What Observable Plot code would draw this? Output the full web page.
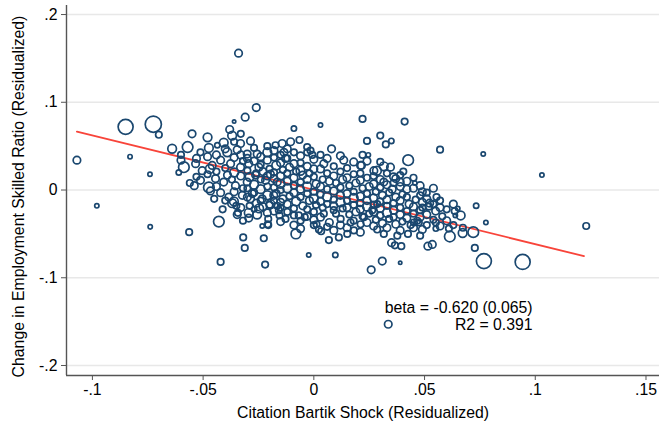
<!DOCTYPE html>
<html><head><meta charset="utf-8">
<script src="https://cdn.jsdelivr.net/npm/d3@7"></script>
<script src="https://cdn.jsdelivr.net/npm/@observablehq/plot@0.6"></script>
<style>body{margin:0;background:#fff}</style>
</head><body><div id="chart"></div>
<script>
const xTicks = [-0.1, -0.05, 0, 0.05, 0.1, 0.15];
const yTicks = [-0.2, -0.1, 0, 0.1, 0.2];
const xLabel = "Citation Bartik Shock (Residualized)";
const yLabel = "Change in Employment Skilled Ratio (Residualized)";
const fitX = [-0.107, 0.122];
const beta = -0.620, intercept = 0.0003;
const annotation = "beta = -0.620 (0.065)\nR2 = 0.391";

// [shock, change, weight]
const sparsePoints = [
[-0.107,0.034,3],[-0.083,0.038,1],[-0.085,0.072,12],[-0.0725,0.075,14],[-0.070,0.063,2.25],[-0.074,0.018,1],[-0.098,-0.018,1],[-0.034,0.156,3],[-0.026,0.094,3],[-0.031,0.083,3],[-0.036,0.078,0.6],[-0.038,0.069,3],[-0.055,0.064,3],[-0.048,0.060,4],[-0.064,0.047,4],[-0.057,0.049,6],[-0.056,0.008,2.25],[-0.009,0.070,1.5],[-0.0065,0.057,2.25],[0.003,0.074,1],[0.008,0.047,3],[0.022,0.081,2.25],[0.041,0.078,2.25],[0.024,0.056,2.25],[0.030,0.062,2.25],[0.0325,0.052,2.25],[0.035,0.056,1.5],[0.057,0.046,2.25],[0.0765,0.041,1],[0.103,0.017,1],[0.022,0.040,2.25],[0.0246,0.040,1],[0.0426,0.034,6],[0.0733,-0.018,1.5],[0.0554,-0.008,2.25],[0.0456,0.008,1],[0.030,0.032,2.25],[0.0215,0.028,3],[0.0316,0.027,4],[0.0346,0.026,3],[0.0285,0.022,4],[0.0404,0.021,2.25],[0.037,0.013,3],[0.042,0.001,3],[0.049,-0.002,3],[0.0523,-0.015,3],[0.123,-0.041,2.25],[0.0777,-0.037,1],[0.0768,-0.081,12],[0.0943,-0.082,12],[0.0727,-0.066,2.25],[0.072,-0.048,6],[0.0673,-0.043,2.25],[0.0672,-0.049,4],[0.0614,-0.053,6],[0.0535,-0.062,3],[0.0515,-0.064,3],[0.0551,-0.044,1.5],[0.0551,-0.037,2.25],[0.0663,-0.029,4],[0.0639,-0.029,1],[0.039,-0.083,0.6],[0.0309,-0.081,3],[0.0259,-0.091,3],[0.0097,-0.074,1.5],[0.0336,-0.153,3]
];
const lowerBand = [
[0.0366,-0.063,2.25],[0.0395,-0.064,2.25],[0.0351,-0.060,3],[0.0425,-0.050,2.25],[0.049,-0.045,3],[0.0113,-0.054,2.25],[0.0151,-0.050,2.25],[0.0181,-0.046,2.25],[0.0286,-0.045,2.25],[0.0316,-0.050,2.25],[0.0377,-0.052,2.25],[0.0437,-0.040,2.25],[0.0474,-0.037,2.25],[-0.0739,-0.042,1],[-0.0563,-0.048,2.25],[-0.0429,-0.036,6],[-0.0421,-0.082,2.25],[-0.0319,-0.054,2.25],[-0.0312,-0.066,2.25],[-0.0226,-0.055,2.25],[-0.022,-0.085,2.25],[-0.0233,-0.041,1],[-0.0206,-0.040,2.25],[-0.0206,-0.033,2.25],[-0.0081,-0.050,5],[-0.0023,-0.074,1],[0.0012,-0.039,2.25],[0.0023,-0.045,2.25],[0.0033,-0.047,2.25],[0.0068,-0.057,2.25],[-0.0294,-0.032,3],[-0.0256,-0.028,4],[-0.0346,-0.028,3],[-0.0128,-0.033,2.25],[-0.0041,-0.031,2.25],[-0.0155,-0.029,2.25],[-0.0068,-0.029,2.25],[-0.0412,-0.022,2.25],[-0.0369,-0.015,4],[-0.0361,-0.013,4],[-0.0343,-0.026,2.25],[-0.0294,-0.026,4],[-0.0247,-0.021,4],[-0.0208,-0.039,2.25],[-0.0158,-0.023,2.25],[-0.0165,-0.018,2.25],[-0.0196,-0.016,4],[-0.0467,-0.001,3],[-0.0421,-0.003,3],[-0.0384,-0.008,3],[-0.0323,-0.006,3],[-0.0286,-0.010,3],[-0.0278,-0.004,3],[-0.0233,-0.010,3],[-0.0181,-0.006,3],[-0.015,-0.014,3],[0.0211,-0.039,2.25],[-0.009,-0.029,2.25],[0,-0.025,2.25],[0.0045,-0.027,2.25],[0.009,-0.023,2.25],[0.0121,-0.033,2.25],[0.0166,-0.037,2.25],[0.0226,-0.031,2.25],[0.0264,-0.023,2.25],[0.0286,-0.016,2.25],[0.065,-0.021,1],[0.0636,-0.024,2.25],[0.049,-0.020,2.25],[0.0452,-0.037,2.25],[0.0467,-0.035,2.25]
];
const upperBand = [
[-0.0369,0.062,4],[-0.0407,0.054,4],[-0.0436,0.051,1.5],[-0.0331,0.053,3],[-0.0286,0.056,3],[-0.0474,0.048,4],[-0.0512,0.043,2.25],[-0.0391,0.043,4],[-0.0346,0.046,3],[-0.0301,0.041,3],[-0.0256,0.041,3],[-0.021,0.043,4],[-0.0173,0.051,2.25],[-0.0587,0.026,6],[-0.0534,0.030,3],[-0.0504,0.022,3],[-0.0459,0.028,3],[-0.0421,0.034,3],[-0.0376,0.030,3],[-0.0331,0.026,3],[-0.0294,0.030,3],[-0.0248,0.026,3],[-0.0474,0.003,6],[-0.0512,0.011,3],[-0.0444,0.013,3],[-0.0407,0.009,3],[-0.0354,0.005,3],[-0.0301,0.009,3],[-0.0263,0.017,3],[-0.0218,0.011,3],[-0.0196,0.018,3],[-0.0165,0.009,3],[-0.0105,0.055,3],[-0.003,0.049,2.25],[-0.0007,0.040,2.25],[-0.0015,0.045,2.25],[-0.0143,0.053,3],[-0.0135,0.043,3],[-0.0128,0.036,3],[0.0045,0.030,3],[0.0135,0.034,3],[0.0211,0.028,3],[0.0271,0.022,3],[-0.006,0.022,4],[0,0.024,3],[0.039,0.009,3],[0.0354,0.001,3],[0.0316,0.009,3],
[-0.060,0.040,2.25],[-0.060,0.034,3],[-0.061,0.020,1.5],[-0.053,0.036,3],[-0.053,0.015,2.25],[-0.054,0.005,3],[-0.048,0.038,3],[-0.048,0.018,2.25],[-0.047,0.024,4],[-0.044,0.040,3],[-0.044,0.021,2.25],[-0.044,0.004,3],[-0.045,-0.010,2.25],[-0.040,0.047,3],[-0.040,0.025,2.25],[-0.039,0.017,3],[-0.040,-0.012,2.25],[-0.036,0.055,2.25],[-0.036,0.037,3],[-0.036,0.020,4],[-0.037,0.012,2.25],[-0.036,-0.002,3],[-0.035,-0.018,2.25],[-0.033,0.064,2.25],[-0.033,0.040,3],[-0.032,0.033,2.25],[-0.033,0.016,3],[-0.032,0.002,2.25],[-0.033,-0.020,3],[-0.032,-0.035,2.25]
];
const coreCloud = [
[-0.030,0.036,3],[-0.030,0.022,2.25],[-0.029,0.015,4],[-0.030,0.002,2.25],[-0.030,-0.008,3],[-0.029,-0.018,2.25],
[-0.027,0.048,2.25],[-0.027,0.033,3],[-0.026,0.019,2.25],[-0.027,0.006,4],[-0.027,-0.003,2.25],[-0.026,-0.015,3],[-0.027,-0.022,1.5],
[-0.024,0.038,3],[-0.024,0.029,2.25],[-0.023,0.021,3],[-0.024,0.012,2.25],[-0.024,0.001,4],[-0.024,-0.012,2.25],[-0.023,-0.019,3],
[-0.021,0.050,2.25],[-0.021,0.034,3],[-0.020,0.024,2.25],[-0.021,0.016,3],[-0.021,0.004,2.25],[-0.021,-0.006,4],[-0.020,-0.017,2.25],[-0.021,-0.026,3],
[-0.018,0.045,3],[-0.018,0.037,2.25],[-0.017,0.028,4],[-0.018,0.020,2.25],[-0.018,0.013,3],[-0.018,0.003,2.25],[-0.017,-0.004,3],[-0.018,-0.012,2.25],[-0.018,-0.024,3],
[-0.015,0.040,2.25],[-0.015,0.031,3],[-0.014,0.023,2.25],[-0.015,0.016,3],[-0.015,0.007,4],[-0.015,0.000,2.25],[-0.014,-0.010,3],[-0.015,-0.020,2.25],[-0.015,-0.036,3],
[-0.012,0.047,3],[-0.012,0.036,2.25],[-0.011,0.026,3],[-0.012,0.019,2.25],[-0.012,0.010,3],[-0.012,0.002,4],[-0.011,-0.007,2.25],[-0.012,-0.016,3],[-0.012,-0.025,2.25],
[-0.009,0.043,2.25],[-0.009,0.030,3],[-0.008,0.021,2.25],[-0.009,0.014,3],[-0.009,0.005,2.25],[-0.009,-0.003,3],[-0.008,-0.013,4],[-0.009,-0.021,2.25],[-0.009,-0.040,3],
[-0.006,0.039,3],[-0.006,0.031,2.25],[-0.005,0.017,3],[-0.006,0.009,2.25],[-0.006,0.001,3],[-0.006,-0.008,2.25],[-0.005,-0.018,3],[-0.006,-0.035,2.25],[-0.006,-0.044,3],
[-0.003,0.043,2.25],[-0.003,0.027,3],[-0.002,0.019,2.25],[-0.003,0.012,3],[-0.003,0.004,4],[-0.003,-0.004,2.25],[-0.002,-0.012,3],[-0.003,-0.022,2.25],[-0.003,-0.030,3],
[0.000,0.035,3],[0.000,0.015,2.25],[0.001,0.007,3],[0.000,-0.002,2.25],[0.000,-0.010,4],[0.001,-0.017,2.25],[0.000,-0.034,3],[0.000,-0.040,2.25],
[0.003,0.040,2.25],[0.003,0.024,3],[0.004,0.012,2.25],[0.003,0.004,3],[0.003,-0.005,2.25],[0.003,-0.013,3],[0.004,-0.020,2.25],[0.003,-0.031,3],
[0.006,0.036,3],[0.006,0.019,2.25],[0.007,0.010,3],[0.006,0.001,2.25],[0.006,-0.008,4],[0.006,-0.016,2.25],[0.007,-0.037,3],[0.006,-0.042,2.25],
[0.009,0.027,2.25],[0.009,0.016,3],[0.010,0.008,2.25],[0.009,-0.001,3],[0.009,-0.011,2.25],[0.009,-0.018,3],[0.010,-0.027,2.25],[0.009,-0.046,3],
[0.012,0.039,3],[0.012,0.021,2.25],[0.013,0.012,3],[0.012,0.003,2.25],[0.012,-0.006,3],[0.012,-0.014,4],[0.013,-0.021,2.25],[0.012,-0.040,3],
[0.015,0.025,2.25],[0.015,0.014,3],[0.016,0.005,2.25],[0.015,-0.004,3],[0.015,-0.012,2.25],[0.015,-0.020,3],[0.016,-0.028,2.25],[0.015,-0.043,3],
[0.018,0.032,3],[0.018,0.018,2.25],[0.019,0.008,3],[0.018,-0.002,2.25],[0.018,-0.009,4],[0.018,-0.017,2.25],[0.019,-0.025,3],[0.018,-0.035,2.25],
[0.021,0.019,2.25],[0.021,0.011,3],[0.022,0.002,2.25],[0.021,-0.007,3],[0.021,-0.015,2.25],[0.021,-0.022,3],[0.022,-0.030,2.25],[0.021,-0.048,3],
[0.024,0.033,3],[0.024,0.014,2.25],[0.025,0.004,3],[0.024,-0.004,2.25],[0.024,-0.012,3],[0.024,-0.019,4],[0.025,-0.027,2.25],[0.024,-0.037,3],
[0.027,0.016,2.25],[0.027,0.007,3],[0.028,-0.002,2.25],[0.027,-0.009,3],[0.027,-0.017,2.25],[0.027,-0.025,3],[0.028,-0.034,2.25],[0.027,-0.041,3],
[0.030,0.012,3],[0.030,0.003,2.25],[0.031,-0.006,3],[0.030,-0.013,2.25],[0.030,-0.021,3],[0.030,-0.029,2.25],[0.031,-0.038,3],
[0.033,0.019,2.25],[0.033,0.006,3],[0.034,-0.003,2.25],[0.033,-0.011,3],[0.033,-0.018,2.25],[0.033,-0.026,4],[0.034,-0.033,2.25],[0.033,-0.043,3],
[0.036,0.015,3],[0.036,0.008,2.25],[0.037,-0.008,3],[0.036,-0.015,2.25],[0.036,-0.023,3],[0.036,-0.031,2.25],[0.037,-0.039,3],
[0.039,0.017,2.25],[0.039,0.004,3],[0.040,-0.005,2.25],[0.039,-0.012,3],[0.039,-0.020,2.25],[0.039,-0.028,3],[0.040,-0.036,2.25],[0.039,-0.046,3],
[0.042,0.010,3],[0.042,-0.008,2.25],[0.043,-0.016,3],[0.042,-0.024,2.25],[0.042,-0.032,3],
[0.045,0.014,2.25],[0.045,0.002,3],[0.046,-0.011,2.25],[0.045,-0.019,3],[0.045,-0.027,2.25],[0.045,-0.043,3],
[0.048,0.005,3],[0.048,-0.006,2.25],[0.049,-0.014,3],[0.048,-0.023,2.25],[0.048,-0.031,3],[0.048,-0.052,2.25],
[0.051,-0.003,2.25],[0.051,-0.010,3],[0.052,-0.019,2.25],[0.051,-0.028,3],[0.051,-0.040,2.25],
[0.054,0.002,3],[0.054,-0.016,2.25],[0.055,-0.024,3],[0.054,-0.034,2.25],
[0.057,-0.012,2.25],[0.057,-0.020,3],[0.058,-0.030,2.25],[0.057,-0.041,3],
[0.060,-0.022,2.25],[0.060,-0.035,3],[0.061,-0.044,2.25],
[0.063,-0.016,3],[0.063,-0.040,2.25]
];

const rows = [...sparsePoints, ...lowerBand, ...upperBand, ...coreCloud].map(([x, y, w]) => ({x, y, w}));
const fit = fitX.map(x => ({x, y: intercept + beta * x}));
const fmt = d => d === 0 ? "0" : (d < 0 ? "-" : "") + String(+Math.abs(d).toFixed(3)).replace(/^0/, "");
const xDomain = [-0.1117, 0.1561];
const yDomain = [-0.2114, 0.2103];
const font = "'Liberation Sans', Arial, Helvetica, sans-serif";

const chart = Plot.plot({
  width: 659, height: 423,
  marginLeft: 66, marginRight: 0, marginTop: 5, marginBottom: 48,
  style: {fontFamily: font, fontSize: "15.8px", color: "#000", background: "#fff"},
  x: {domain: xDomain, ticks: xTicks, tickFormat: fmt, label: null},
  y: {domain: yDomain, ticks: yTicks, tickFormat: fmt, label: null},
  r: {type: "sqrt", domain: [0, 14], range: [0, 8.1]},
  marks: [
    Plot.gridY(yTicks, {stroke: "#e8e8e8", strokeOpacity: 1, strokeWidth: 1.5}),
    Plot.line(fit, {x: "x", y: "y", stroke: "#f8443a", strokeWidth: 1.8}),
    Plot.dot(rows, {x: "x", y: "y", r: "w", stroke: "#1a476f", strokeWidth: 1.7, fill: "none"}),
    Plot.ruleX([xDomain[0]], {stroke: "#555", strokeWidth: 1.4}),
    Plot.ruleY([yDomain[0]], {stroke: "#555", strokeWidth: 1.4}),
    Plot.axisX(xTicks, {tickSize: 5, tickPadding: 3, stroke: "#555", fill: "#000", label: null, tickFormat: fmt}),
    Plot.axisY(yTicks, {tickSize: 5, tickPadding: 4, stroke: "#555", fill: "#000", label: null, tickFormat: fmt}),
    Plot.text([annotation], {x: 0.0988, y: -0.144, textAnchor: "end", lineAnchor: "middle", lineHeight: 1.02, fill: "#000"}),
    Plot.text([xLabel], {frameAnchor: "bottom", dy: 37, lineAnchor: "middle", fill: "#000"}),
    Plot.text([yLabel], {frameAnchor: "left", dx: -48, dy: 6, rotate: -90, textAnchor: "middle", lineAnchor: "middle", fill: "#000"})
  ]
});
document.getElementById("chart").appendChild(chart);
</script>
</body></html>
